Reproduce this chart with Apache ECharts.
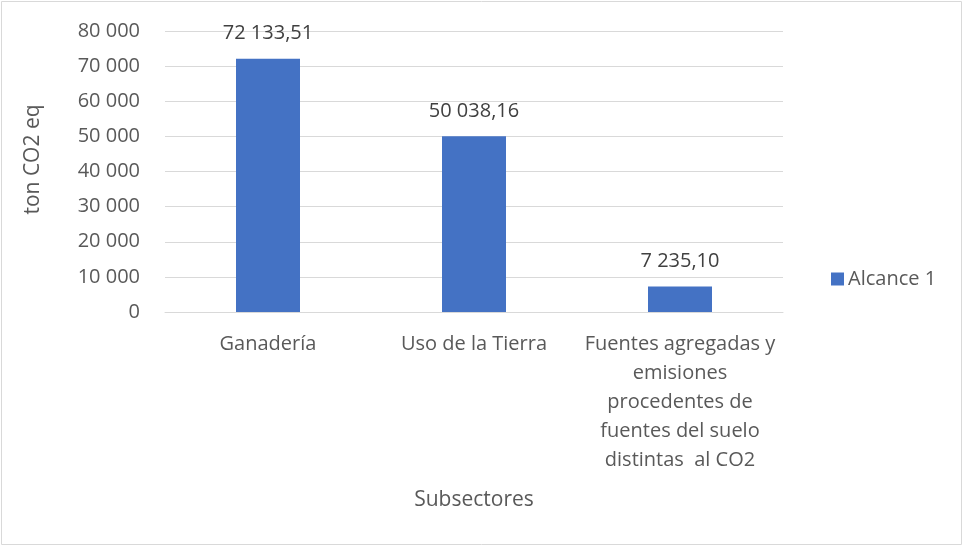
<!DOCTYPE html>
<html>
<head>
<meta charset="utf-8">
<script src="https://cdn.jsdelivr.net/npm/echarts@6/dist/echarts.min.js"></script>
<style>
  html, body { margin: 0; padding: 0; background: #fff; }
  #chart { width: 964px; height: 547px; }
</style>
</head>
<body>
<div id="chart"></div>
<script>
// datos del gráfico
var categorias = [
	'Ganadería',
	'Uso de la Tierra',
	'Fuentes agregadas y\nemisiones\nprocedentes de\nfuentes del suelo\ndistintas  al CO2'
];
var alcance1 = [72133.51, 50038.16, 7235.10];
var serieNombre = 'Alcance 1';

var chart = echarts.init(document.getElementById('chart'));
var fuente = 'Open Sans';
var gris = '#595959';

// formato español: espacio de miles, coma decimal
function formato(v, dec) {
	var s = v.toFixed(dec).split('.');
	var ent = s[0].replace(/\B(?=(\d{3})+(?!\d))/g, ' ');
	return s.length > 1 ? ent + ',' + s[1] : ent;
}

var option = {
	animation: false,
	textStyle: { fontFamily: fuente, color: gris },
	graphic: [{
		type: 'rect',
		shape: { x: 1.5, y: 1.5, width: 960, height: 543 },
		style: { fill: 'none', stroke: '#d9d9d9', lineWidth: 1 }
	}],
	legend: {
		data: [serieNombre],
		left: 826,
		top: 264,
		icon: 'rect',
		itemWidth: 13,
		itemHeight: 13,
		itemGap: 5,
		textStyle: { fontFamily: fuente, fontSize: 20, color: gris, padding: [0, 0, 0, -1] }
	},
	grid: { left: 165, right: 181, top: 31, bottom: 235, containLabel: false },
	xAxis: {
		type: 'category',
		data: categorias,
		name: 'Subsectores',
		nameLocation: 'middle',
		nameGap: 178,
		nameTextStyle: { fontFamily: fuente, fontSize: 21, color: gris },
		axisLine: { lineStyle: { color: '#d9d9d9', width: 1 } },
		axisTick: { show: false },
		axisLabel: {
			interval: 0,
			fontFamily: fuente,
			fontSize: 20,
			color: gris,
			lineHeight: 29,
			margin: 18,
			verticalAlign: 'top'
		}
	},
	yAxis: {
		type: 'value',
		min: 0,
		max: 80000,
		interval: 10000,
		name: 'ton CO2 eq',
		nameLocation: 'middle',
		nameGap: 121,
		nameRotate: 90,
		nameTextStyle: { fontFamily: fuente, fontSize: 21, color: gris, padding: [0, 0, 0, 24] },
		axisLine: { show: false },
		axisTick: { show: false },
		splitLine: { lineStyle: { color: '#d9d9d9', width: 1 } },
		axisLabel: {
			fontFamily: fuente,
			fontSize: 20,
			color: gris,
			margin: 25,
			formatter: function (v) { return formato(v, 0); }
		}
	},
	series: [{
		name: serieNombre,
		type: 'bar',
		data: alcance1,
		barWidth: 64,
		itemStyle: { color: '#4472c4' },
		label: {
			show: true,
			position: 'top',
			distance: 15,
			fontFamily: fuente,
			fontSize: 20,
			color: '#404040',
			formatter: function (p) { return formato(p.value, 2); }
		}
	}]
};

chart.setOption(option);
</script>
</body>
</html>
